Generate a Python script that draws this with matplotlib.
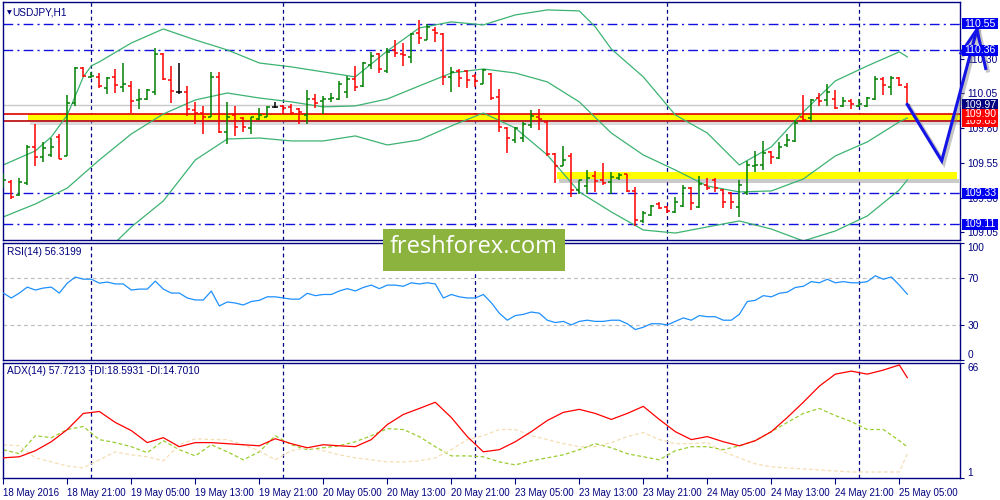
import matplotlib
matplotlib.use('Agg')
import matplotlib.pyplot as plt
from matplotlib.patches import Rectangle
from matplotlib import transforms
import numpy as np

# ---------------- data ----------------
symbol_title = "USDJPY,H1"
rsi_title = "RSI(14) 56.3199"
adx_title = "ADX(14) 57.7213 +DI:18.5931 -DI:14.7010"

opens = [109.413, 109.413, 109.319, 109.405, 109.665, 109.593, 109.607, 109.737, 109.600, 109.981,
         110.233, 110.169, 110.169, 110.089, 110.169, 110.097, 110.104, 110.003, 110.010, 110.061,
         110.334, 110.147, 110.061, 110.061, 109.931, 109.909, 109.881, 110.169, 109.773, 109.895,
         109.873, 109.801, 109.866, 109.881, 109.953, 109.960, 109.953, 109.938, 109.895, 110.010,
         109.996, 110.010, 110.010, 110.061, 110.154, 110.104, 110.255, 110.334, 110.212, 110.363,
         110.334, 110.313, 110.485, 110.435, 110.507, 110.478, 110.169, 110.212, 110.212, 110.176,
         110.118, 110.190, 110.025, 109.801, 109.715, 109.729, 109.823, 109.881, 109.845, 109.614,
         109.528, 109.600, 109.355, 109.384, 109.456, 109.427, 109.413, 109.441, 109.470, 109.347,
         109.132, 109.175, 109.254, 109.233, 109.197, 109.240, 109.369, 109.233, 109.391, 109.427,
         109.355, 109.333, 109.233, 109.333, 109.528, 109.535, 109.629, 109.585, 109.679, 109.708,
         109.881, 109.873, 110.017, 110.003, 110.010, 109.960, 109.996, 109.960, 109.960, 110.010,
         110.154, 110.097, 110.161, 110.097]
highs = [109.477, 109.427, 109.441, 109.679, 109.830, 109.701, 109.729, 109.758, 110.039, 110.241,
         110.241, 110.205, 110.197, 110.169, 110.226, 110.269, 110.140, 110.082, 110.082, 110.377,
         110.341, 110.248, 110.269, 110.104, 109.989, 109.960, 110.205, 110.205, 109.989, 109.960,
         109.881, 109.881, 109.945, 109.960, 109.989, 109.967, 109.974, 109.945, 110.075, 110.046,
         110.032, 110.053, 110.140, 110.176, 110.248, 110.277, 110.349, 110.341, 110.377, 110.435,
         110.413, 110.485, 110.579, 110.550, 110.529, 110.485, 110.241, 110.226, 110.219, 110.190,
         110.226, 110.197, 110.082, 109.809, 109.809, 109.845, 109.931, 109.938, 109.852, 109.621,
         109.672, 109.621, 109.427, 109.499, 109.492, 109.549, 109.485, 109.477, 109.470, 109.377,
         109.204, 109.247, 109.269, 109.240, 109.305, 109.391, 109.377, 109.456, 109.441, 109.441,
         109.362, 109.341, 109.427, 109.564, 109.636, 109.708, 109.636, 109.701, 109.758, 109.859,
         110.039, 110.010, 110.053, 110.118, 110.075, 110.025, 110.010, 110.010, 110.025, 110.176,
         110.169, 110.176, 110.169, 110.125]
lows = [109.369, 109.290, 109.312, 109.391, 109.528, 109.557, 109.593, 109.578, 109.600, 109.960,
        110.169, 110.161, 110.089, 110.046, 110.053, 110.061, 109.909, 109.938, 110.003, 110.039,
        110.147, 109.981, 110.046, 109.888, 109.830, 109.758, 109.881, 109.765, 109.686, 109.744,
        109.773, 109.758, 109.859, 109.881, 109.945, 109.909, 109.895, 109.830, 109.830, 109.945,
        109.902, 109.989, 110.003, 110.017, 110.068, 110.097, 110.226, 110.197, 110.197, 110.313,
        110.248, 110.269, 110.406, 110.435, 110.421, 110.111, 110.061, 110.097, 110.089, 110.097,
        110.118, 110.003, 109.773, 109.621, 109.693, 109.701, 109.801, 109.787, 109.600, 109.405,
        109.528, 109.305, 109.326, 109.326, 109.341, 109.391, 109.326, 109.427, 109.341, 109.096,
        109.117, 109.168, 109.218, 109.189, 109.189, 109.233, 109.211, 109.225, 109.355, 109.341,
        109.225, 109.218, 109.161, 109.319, 109.485, 109.499, 109.542, 109.578, 109.665, 109.701,
        109.845, 109.845, 109.960, 109.960, 109.938, 109.953, 109.938, 109.953, 109.953, 110.003,
        110.039, 110.039, 110.104, 109.967]
closes = [109.427, 109.305, 109.413, 109.665, 109.593, 109.657, 109.665, 109.578, 109.981, 110.233,
          110.176, 110.176, 110.104, 110.161, 110.111, 110.118, 109.996, 110.010, 110.075, 110.334,
          110.154, 110.068, 110.061, 109.938, 109.909, 109.881, 110.169, 109.773, 109.881, 109.809,
          109.809, 109.881, 109.895, 109.953, 109.953, 109.945, 109.909, 109.917, 110.010, 109.981,
          110.010, 110.017, 110.118, 110.154, 110.097, 110.269, 110.320, 110.226, 110.349, 110.341,
          110.327, 110.478, 110.449, 110.529, 110.485, 110.169, 110.205, 110.161, 110.147, 110.140,
          110.219, 110.017, 109.809, 109.729, 109.801, 109.830, 109.888, 109.866, 109.614, 109.528,
          109.571, 109.355, 109.427, 109.441, 109.420, 109.405, 109.449, 109.463, 109.347, 109.139,
          109.189, 109.240, 109.225, 109.204, 109.269, 109.369, 109.261, 109.398, 109.369, 109.369,
          109.269, 109.269, 109.391, 109.535, 109.535, 109.621, 109.593, 109.665, 109.715, 109.837,
          109.859, 110.003, 109.996, 110.061, 109.945, 109.996, 109.974, 109.974, 110.017, 110.154,
          110.111, 110.161, 110.111, 109.967]

# Bollinger bands at the listed bar positions
bb_upper_idx = [0, 4, 6, 8, 10, 11, 12, 16, 20, 24, 28, 32, 36, 40, 44, 48, 52, 56, 60, 64, 68,
                72, 74, 76, 80, 84, 88, 92, 96, 100, 104, 108, 112, 113]
bb_upper = [109.535, 109.636, 109.737, 109.895, 110.169, 110.248, 110.277, 110.413, 110.514, 110.435,
            110.363, 110.269, 110.241, 110.205, 110.169, 110.356, 110.521, 110.565, 110.543, 110.615,
            110.651, 110.644, 110.529, 110.370, 110.169, 109.895, 109.765, 109.535, 109.665, 109.917,
            110.140, 110.248, 110.349, 110.313]
bb_idx = [0, 4, 8, 12, 16, 20, 24, 28, 32, 36, 40, 44, 48, 52, 56, 60, 64, 68, 72, 76, 80,
          84, 88, 92, 96, 100, 104, 108, 112, 113]
bb_middle = [109.161, 109.254, 109.369, 109.571, 109.758, 109.902, 110.003, 110.053, 110.017, 109.989,
             109.953, 109.960, 110.010, 110.104, 110.197, 110.226, 110.197, 110.133, 109.989, 109.765,
             109.607, 109.499, 109.384, 109.341, 109.348, 109.434, 109.600, 109.701, 109.845, 109.873]
bb_lower = [108.786, 108.873, 108.844, 108.865, 109.089, 109.276, 109.571, 109.722, 109.729, 109.708,
            109.708, 109.744, 109.679, 109.715, 109.816, 109.909, 109.801, 109.607, 109.341, 109.197,
            109.067, 109.045, 109.089, 109.132, 109.074, 108.988, 109.060, 109.168, 109.355, 109.427]

rsi = [57.2, 53.0, 57.2, 62.3, 59.8, 61.5, 62.3, 57.2, 65.7, 70.9, 69.1, 69.1, 65.7, 66.6, 65.0,
       65.0, 59.8, 60.6, 60.6, 67.4, 60.6, 57.2, 57.2, 53.0, 51.3, 51.3, 58.9, 46.2, 49.6, 48.7, 47.0,
       50, 51, 54, 54, 53, 52, 52, 57, 55, 56,
       56, 59, 61, 59, 62, 64, 61, 64, 64, 63,
       66, 65, 66, 65, 53, 56, 54, 53, 53, 56,
       49, 40, 34, 38, 39, 41, 40, 34, 32, 33,
       30, 33, 34, 33, 33, 34, 34, 31, 26, 28,
       31, 31, 30, 33, 36, 34, 38, 37, 37, 34,
       34, 39, 50, 51, 55, 54, 57, 58, 62, 63,
       67, 66, 69, 66, 67, 66, 66, 67, 72, 69,
       71, 64, 56.32]

adx_idx = list(range(0, 113, 2)) + [113]
adx = [12.4, 13.0, 16.4, 21.5, 28.4, 37.5, 38.6, 32.4, 27.8, 21.0, 23.8, 18.7, 21.0, 21.0, 20.4,
       19.8, 19.2, 23.2, 20.4, 18.1, 19.8, 19.2, 18.7, 22.7, 31.2, 36.9, 40.3, 43.8, 35.2, 24.4,
       15.8, 17.0, 21.5, 27.2, 33.5, 38.1, 39.8, 37.5, 34.1, 37.5, 41.5, 34.1, 27.2, 22.7, 24.4,
       21.5, 19.2, 22.1, 27.2, 35.2, 43.8, 52.9, 59.7, 61.4, 59.7, 62.0, 64.9, 57.72]
plus_di = [17.0, 14.7, 24.9, 23.8, 28.4, 30.1, 22.7, 21.0, 18.7, 15.3, 22.1, 17.0, 13.5, 19.8, 15.8,
           11.3, 15.8, 24.9, 19.8, 17.0, 18.1, 19.2, 21.5, 24.9, 28.9, 28.4, 24.4, 18.7, 13.5, 13.5,
           13.0, 10.1, 8.4, 10.7, 12.4, 14.1, 17.0, 20.4, 18.1, 14.7, 13.0, 11.3, 16.4, 18.7, 18.7,
           17.0, 19.2, 22.1, 27.2, 32.4, 37.5, 40.3, 36.3, 32.9, 28.4, 28.4, 22.1, 18.59]
minus_di = [19.8, 19.2, 12.4, 10.1, 7.8, 6.7, 11.3, 15.8, 14.1, 13.0, 10.7, 19.8, 23.2, 22.7, 22.7,
            19.8, 16.4, 11.3, 16.4, 18.1, 16.4, 14.1, 12.4, 11.3, 10.1, 10.1, 10.7, 12.4, 17.0, 22.7,
            24.9, 28.4, 28.4, 24.9, 22.7, 20.4, 18.7, 18.7, 21.0, 24.4, 26.7, 22.7, 20.4, 20.4, 21.0,
            15.8, 12.4, 9.0, 7.3, 6.7, 6.1, 5.6, 5.0, 4.4, 4.4, 4.4, 4.4, 14.70]

time_label_bars = [0, 8, 16, 24, 32, 40, 48, 56, 64, 72, 80, 88, 96, 104, 112]
time_labels = ["18 May 2016", "18 May 21:00", "19 May 05:00", "19 May 13:00", "19 May 21:00",
               "20 May 05:00", "20 May 13:00", "20 May 21:00", "23 May 05:00", "23 May 13:00",
               "23 May 21:00", "24 May 05:00", "24 May 13:00", "24 May 21:00", "25 May 05:00"]
day_sep_bars = [11, 35, 59, 83, 107]

price_ticks = [110.30, 110.05, 109.80, 109.55, 109.30, 109.05]
blue_levels = [110.55, 110.36, 109.33, 109.11]
red_levels = [109.90, 109.85]
bid_price = 109.97
zone1 = [109.862, 109.90]
zone1_start = 3.1
zone2 = [109.434, 109.485]
zone2_start, zone2_end = 69.2, 119.2
price_box_levels = [110.55, 110.36, 109.97, 109.85, 109.90, 109.33, 109.11]
price_box_text = ["110.55", "110.36", "109.97", "109.85", "109.90", "109.33", "109.11"]
price_box_colors = ['#0000F0', '#0000F0', '#000080', '#FF0000', '#FF0000', '#0000F0', '#0000F0']

arrow_x = [113, 117.3, 121.7]
arrow_y = [109.97, 109.565, 110.51]
arrow_head_x = [119.7, 121.7, 122.8]
arrow_head_y = [110.34, 110.51, 110.23]

rsi_levels = [70, 30]
watermark = "freshforex.com"

# ---------------- figure ----------------
plt.rcParams['font.family'] = ['Liberation Sans', 'DejaVu Sans']
NAVY = '#000080'
W, H = 1000, 500
fig = plt.figure(figsize=(W / 100, H / 100), dpi=100)
fig.patch.set_facecolor('white')


def axrect(l, t, r, b):
    return [l / W, 1 - b / H, (r - l) / W, (b - t) / H]


ax = fig.add_axes(axrect(2.5, 2, 960.5, 240))
ax_rsi = fig.add_axes(axrect(2.5, 243, 960.5, 360))
ax_adx = fig.add_axes(axrect(2.5, 363, 960.5, 478))
XLIM = (-0.1, 119.65)

for a in (ax, ax_rsi, ax_adx):
    a.set_xlim(*XLIM)
    for s in a.spines.values():
        s.set_color(NAVY)
        s.set_linewidth(1.0)
    a.yaxis.tick_right()
    a.tick_params(axis='y', length=3, pad=2, colors=NAVY, labelsize=7.3, width=0.8)
    a.tick_params(axis='x', length=0, labelbottom=False)
    for d in day_sep_bars:
        a.axvline(d, color=NAVY, lw=0.9, ls=(0, (3, 2.5)), zorder=0.5)

# ---- main price panel ----
ax.set_ylim(108.995, 110.708)
ax.set_yticks(price_ticks)
ax.set_yticklabels([f"{v:.2f}" for v in price_ticks])

# zones
ax.add_patch(Rectangle((zone1_start, zone1[0]), XLIM[1] - zone1_start, zone1[1] - zone1[0],
                       fc='#FFFF00', ec='none', zorder=1))
ax.add_patch(Rectangle((zone1_start, red_levels[1]), XLIM[1] - zone1_start, zone1[0] - red_levels[1],
                       fc='#A8A8A8', ec='none', zorder=1))
ax.add_patch(Rectangle((zone1_start + 0.3, red_levels[1] - 0.026), XLIM[1] - zone1_start, 0.024,
                       fc='#B0B0B0', ec='none', alpha=0.45, zorder=1))
ax.add_patch(Rectangle((zone2_start + 0.3, zone2[0] - 0.028), zone2_end - zone2_start, 0.028,
                       fc='#A0A0A0', ec='none', alpha=0.55, zorder=1, clip_on=False))
ax.add_patch(Rectangle((zone2_start, zone2[0]), zone2_end - zone2_start, zone2[1] - zone2[0],
                       fc='#FFFF00', ec='none', zorder=1.1, clip_on=False))

ax.axhline(bid_price, color='#C8C8C8', lw=1.0, zorder=1.2)
ax.axhline(red_levels[0], color='#E00000', lw=1.2, zorder=1.3)
ax.axhline(red_levels[1], color='#C01818', lw=1.3, zorder=1.3)
for lv in blue_levels:
    ax.axhline(lv, color='#1010E0', lw=1.0, ls=(0, (7, 3, 1.5, 3)), zorder=1.3)

# bollinger
BB = '#3CB371'
ax.plot(bb_upper_idx, bb_upper, color=BB, lw=0.9, zorder=2)
ax.plot(bb_idx, bb_middle, color=BB, lw=0.9, zorder=2)
ax.plot(bb_idx, bb_lower, color=BB, lw=0.9, zorder=2)

# OHLC bars
idx = np.arange(len(opens))
colors = ['#008000' if c > o else ('#FF0000' if c < o else '#000000') for o, c in zip(opens, closes)]
ax.vlines(idx, lows, highs, colors=colors, lw=1.1, zorder=3)
ax.hlines(opens, idx - 0.38, idx, colors=colors, lw=1.1, zorder=3)
ax.hlines(closes, idx, idx + 0.38, colors=colors, lw=1.1, zorder=3)

# hand-drawn arrow with shadow
shadow = transforms.offset_copy(ax.transData, fig=fig, x=2, y=-2, units='dots')
for tr, col, lw, al in ((shadow, '#808080', 3.0, 0.45), (ax.transData, '#1414E6', 2.2, 1.0)):
    ax.plot(arrow_x, arrow_y, color=col, lw=lw, alpha=al, transform=tr, clip_on=False,
            solid_joinstyle='miter', zorder=6)
    ax.plot(arrow_head_x, arrow_head_y, color=col, lw=lw, alpha=al, transform=tr, clip_on=False,
            solid_joinstyle='miter', zorder=6)

# price label boxes on the right scale (later boxes sit on top of earlier ones)
btr = transforms.blended_transform_factory(fig.transFigure, ax.transData)
box_h = 11 / 138.9
for k, (lv, txt, col) in enumerate(zip(price_box_levels, price_box_text, price_box_colors)):
    z = 7 + 2 * k
    ax.add_patch(Rectangle((962 / W, lv - box_h / 2), 36 / W, box_h, transform=btr, fc=col,
                           ec='none', clip_on=False, zorder=z))
    ax.text(964.5 / W, lv, txt, transform=btr, color='white', fontsize=7.6, va='center', ha='left',
            clip_on=False, zorder=z + 1)

ax.text(12 / W, 0.955, symbol_title, transform=transforms.blended_transform_factory(fig.transFigure, ax.transAxes),
        color=NAVY, fontsize=7.3, va='center', ha='left', zorder=30)
ax.text(6.5 / W, 0.955, '\u25BC', transform=transforms.blended_transform_factory(fig.transFigure, ax.transAxes),
        color=NAVY, fontsize=4.5, va='center', ha='left', zorder=30, family='DejaVu Sans')

# ---- RSI panel ----
ax_rsi.set_ylim(0, 100)
ax_rsi.plot(np.arange(len(rsi)), rsi, color='#1E90FF', lw=0.9, zorder=3)
for lv in rsi_levels:
    ax_rsi.axhline(lv, color='#C0C0C0', lw=0.9, ls=(0, (3, 2.5)), zorder=1)
ax_rsi.set_yticks([100, 70, 30, 0])
ax_rsi.set_yticklabels(['100', '70', '30', '0'])
labs = ax_rsi.get_yticklabels()
labs[0].set_va('top')
labs[3].set_va('bottom')
ax_rsi.text(7 / W, 0.92, rsi_title, transform=transforms.blended_transform_factory(fig.transFigure, ax_rsi.transAxes),
            color=NAVY, fontsize=7.3, va='center', ha='left')

# ---- ADX panel ----
ax_adx.set_ylim(1, 66)
ax_adx.plot(adx_idx, adx, color='#FF0000', lw=0.9, zorder=3)
ax_adx.plot(adx_idx, plus_di, color='#9ACD32', lw=0.9, ls=(0, (3, 2)), zorder=2)
ax_adx.plot(adx_idx, minus_di, color='#F5DEB3', lw=0.9, ls=(0, (3, 2)), zorder=2)
ax_adx.set_yticks([66, 1])
ax_adx.set_yticklabels(['66', '1'])
labs = ax_adx.get_yticklabels()
labs[0].set_va('top')
labs[1].set_va('bottom')
ax_adx.text(7 / W, 0.93, adx_title, transform=transforms.blended_transform_factory(fig.transFigure, ax_adx.transAxes),
            color=NAVY, fontsize=7.3, va='center', ha='left')

ax_adx.set_xticks(time_label_bars)
ax_adx.set_xticklabels(time_labels)
ax_adx.tick_params(axis='x', length=4, width=0.8, colors=NAVY, labelsize=7, pad=3, labelbottom=True,
                   direction='out')
for t in ax_adx.get_xticklabels():
    t.set_ha('left')

# ---- watermark ----
fig.patches.append(Rectangle((383 / W, 1 - 271 / H), 182 / W, 42 / H, transform=fig.transFigure,
                             fc='#8DB33F', ec='none', zorder=20))
fig.text(474 / W, 1 - 247 / H, watermark, color='white', fontsize=17, family=['Open Sans', 'DejaVu Sans'],
         ha='center', va='center', zorder=21)

fig.savefig('out.png', dpi=100, facecolor='white')
